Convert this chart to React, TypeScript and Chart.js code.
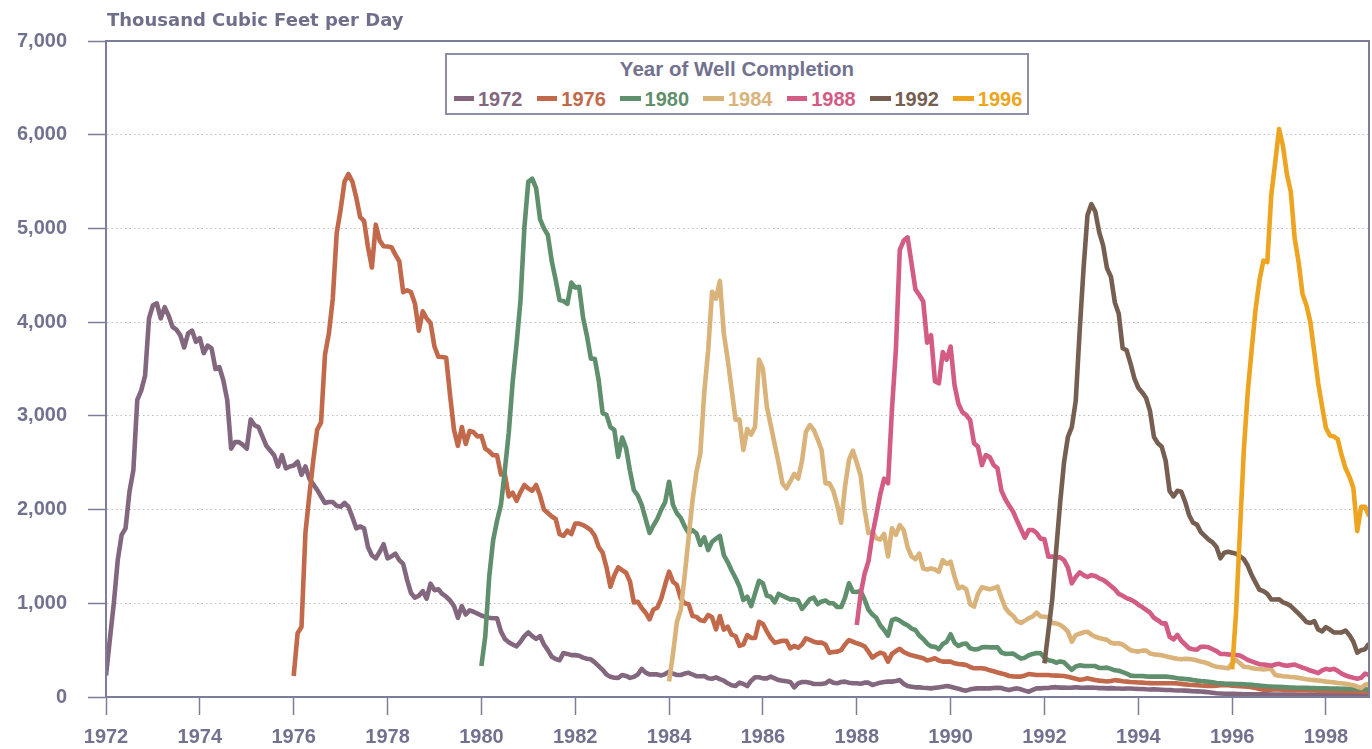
import React, { useEffect, useRef } from "react";
import { Chart, registerables } from "chart.js";

Chart.register(...registerables);

// ---- Data (monthly values, thousand cubic feet per day) ----
const startYears = [1972, 1976, 1980, 1984, 1988, 1992, 1996];
const seriesLabels = ["1972", "1976", "1980", "1984", "1988", "1992", "1996"];
const seriesColors = ["#83677F", "#C1694A", "#5F8F6C", "#D9B37A", "#D35C84", "#765F50", "#EDA420"];

const s1972 = [
  230, 620, 1000, 1460, 1730, 1800, 2190, 2420, 3170, 3270, 3430, 4040,
  4180, 4200, 4040, 4160, 4070, 3950, 3920, 3860, 3730, 3880, 3910, 3790,
  3830, 3670, 3750, 3720, 3500, 3520, 3380, 3170, 2650, 2720, 2720, 2690,
  2650, 2960, 2900, 2880, 2780, 2680, 2630, 2580, 2460, 2580, 2440, 2460,
  2470, 2510, 2370, 2460, 2330, 2270, 2210, 2140, 2070, 2080, 2080, 2040,
  2030, 2070, 2030, 1920, 1800, 1820, 1800, 1600, 1510, 1480, 1550, 1630,
  1480, 1500, 1530, 1460, 1420, 1250, 1110, 1060, 1080, 1130, 1050, 1210,
  1140, 1150, 1100, 1070, 1030, 970, 845, 970, 880, 925, 910, 890,
  870, 855, 845, 841, 841, 700, 620, 585, 560, 541, 590, 650,
  690, 650, 620, 650, 560, 500, 430, 405, 392, 470, 460, 447,
  447, 440, 420, 408, 402, 370, 330, 290, 240, 215, 206, 204,
  235, 225, 204, 215, 240, 300, 260, 241, 241, 241, 230, 245,
  270, 250, 235, 235, 250, 258, 240, 222, 222, 223, 200, 195,
  210, 190, 175, 146, 125, 117, 153, 139, 117, 174, 210, 210,
  199, 199, 217, 199, 181, 174, 167, 160, 103, 146, 160, 160,
  153, 139, 139, 139, 146, 174, 153, 146, 160, 164, 153, 146,
  146, 142, 153, 153, 128, 140, 153, 160, 164, 164, 170, 181,
  140, 117, 110, 103, 103, 99, 96, 92, 99, 103, 110, 117,
  110, 99, 89, 75, 68, 82, 89, 92, 92, 92, 92, 96,
  99, 96, 82, 75, 85, 92, 82, 68, 57, 75, 92, 92,
  96, 96, 103, 105, 100, 100, 98, 100, 105, 100, 98, 100,
  100, 98, 95, 95, 92, 95, 92, 90, 88, 90, 90, 88,
  85, 85, 82, 80, 82, 80, 78, 75, 75, 72, 70, 70,
  68, 65, 62, 60, 58, 55, 50, 45, 40, 38, 35, 35,
  35, 33, 32, 30, 30, 30, 30, 28, 28, 28, 27, 27,
  26, 26, 25, 25, 25, 24, 24, 24, 23, 23, 22, 22,
  22, 21, 21, 20, 20, 20, 20, 19, 19, 19, 18, 18,
];

const s1976 = [
  224, 680, 750, 1750, 2150, 2520, 2850, 2930, 3650, 3880, 4250, 4950,
  5200, 5500, 5580, 5500, 5330, 5120, 5080, 4800, 4583, 5040, 4870, 4810,
  4807, 4800, 4720, 4650, 4320, 4340, 4320, 4200, 3909, 4115, 4040, 3990,
  3740, 3630, 3628, 3620, 3217, 2850, 2680, 2880, 2700, 2840, 2825, 2780,
  2786, 2650, 2620, 2580, 2580, 2375, 2375, 2140, 2180, 2093, 2187, 2262,
  2225, 2200, 2262, 2150, 2000, 1963, 1926, 1900, 1738, 1720, 1775, 1738,
  1851, 1851, 1835, 1810, 1780, 1720, 1600, 1540, 1383, 1177, 1300, 1383,
  1353, 1326, 1233, 1008, 1016, 950, 900, 829, 934, 953, 1050, 1200,
  1337, 1230, 1195, 1050, 1000, 990, 864, 855, 820, 810, 875, 850,
  722, 864, 720, 750, 665, 650, 545, 560, 660, 630, 630, 803,
  780, 700, 630, 580, 590, 601, 601, 519, 545, 525, 560, 626,
  610, 590, 580, 580, 560, 473, 480, 484, 500, 560, 608, 590,
  573, 560, 540, 484, 420, 450, 473, 460, 377, 460, 490, 515,
  480, 460, 445, 435, 425, 413, 390, 400, 413, 390, 377, 377,
  377, 360, 352, 348, 341, 320, 306, 306, 306, 300, 285, 275,
  262, 250, 240, 224, 220, 217, 217, 230, 245, 240, 235, 235,
  235, 235, 230, 228, 226, 224, 215, 205, 195, 185, 190, 199,
  190, 181, 175, 170, 165, 170, 180, 175, 168, 164, 160, 158,
  155, 153, 150, 148, 146, 146, 146, 146, 146, 146, 145, 140,
  135, 130, 128, 125, 122, 120, 118, 117, 120, 125, 128, 125,
  120, 117, 115, 113, 110, 105, 95, 85, 78, 75, 78, 82,
  80, 78, 76, 75, 75, 73, 72, 72, 70, 70, 68, 66,
  65, 64, 63, 62, 62, 60, 60, 58, 58, 56, 55, 55,
];

const s1980 = [
  330, 650, 1280, 1670, 1880, 2050, 2420, 2820, 3360, 3770, 4227, 5010,
  5500, 5530, 5430, 5100, 5000, 4930, 4650, 4451, 4235, 4225, 4195, 4422,
  4370, 4377, 4050, 3853, 3610, 3610, 3380, 3030, 3011, 2880, 2850, 2562,
  2768, 2656, 2413, 2207, 2150, 2050, 1900, 1750, 1830, 1900, 2000, 2080,
  2297, 2050, 1960, 1910, 1820, 1750, 1780, 1747, 1622, 1704, 1568, 1657,
  1690, 1718, 1515, 1440, 1350, 1270, 1180, 1035, 1070, 970, 1106, 1240,
  1213, 1080, 1070, 1010, 1100, 1080, 1060, 1042, 1042, 1030, 940, 990,
  1045, 1060, 990, 1020, 1030, 1000, 1000, 960, 960, 1060, 1213, 1124,
  1120, 1130, 1040, 930, 880, 845, 765, 715, 655, 820, 835, 815,
  785, 765, 730, 715, 655, 620, 570, 540, 537, 510, 565, 590,
  670, 580, 545, 565, 570, 520, 508, 510, 530, 534, 530, 530,
  530, 475, 460, 462, 464, 435, 410, 420, 446, 460, 470, 466,
  420, 392, 385, 366, 380, 370, 330, 290, 325, 338, 332, 331,
  331, 330, 310, 310, 313, 300, 285, 280, 265, 250, 228, 224,
  224, 224, 220, 217, 217, 217, 217, 217, 214, 207, 200, 196,
  192, 188, 181, 175, 170, 167, 163, 158, 150, 147, 143, 140,
  140, 139, 138, 136, 134, 130, 126, 122, 118, 114, 112, 110,
  108, 106, 104, 102, 100, 99, 98, 97, 96, 95, 94, 93,
  92, 91, 90, 89, 88, 87, 86, 85, 84, 83, 82, 80,
];

const s1984 = [
  166, 460, 800, 930, 1300, 1700, 2100, 2400, 2600, 3250, 3700, 4325,
  4250, 4440, 3880, 3600, 3280, 2960, 2960, 2635, 2860, 2800, 2884, 3600,
  3500, 3100, 2900, 2700, 2500, 2280, 2226, 2300, 2380, 2330, 2520, 2830,
  2902, 2850, 2750, 2635, 2280, 2280, 2200, 2049, 1860, 2244, 2529, 2630,
  2500, 2360, 2000, 1750, 1760, 1693, 1680, 1740, 1500, 1800, 1730, 1835,
  1780, 1600, 1500, 1470, 1530, 1370, 1360, 1370, 1360, 1337, 1460, 1420,
  1444, 1284, 1160, 1177, 1150, 990, 964, 1100, 1170, 1160, 1150, 1160,
  1177, 1060, 950, 900, 865, 810, 790, 815, 840, 860, 900, 860,
  857, 850, 790, 785, 770, 740, 697, 590, 660, 675, 690, 697,
  665, 643, 630, 620, 610, 580, 570, 573, 560, 530, 500, 490,
  484, 495, 495, 465, 455, 450, 445, 435, 425, 415, 408, 402,
  408, 405, 400, 390, 377, 370, 355, 335, 322, 318, 312, 306,
  360, 394, 360, 322, 320, 308, 302, 298, 294, 300, 300, 236,
  228, 222, 218, 214, 210, 204, 198, 190, 184, 180, 176, 170,
  164, 160, 156, 150, 146, 140, 132, 125, 110, 97, 130, 140,
];

const s1988 = [
  768, 1100, 1315, 1450, 1730, 1940, 2160, 2330, 2280, 3070, 3700, 4770,
  4870, 4905, 4630, 4350, 4290, 4220, 3780, 3860, 3370, 3347, 3680, 3600,
  3740, 3330, 3130, 3040, 3009, 2955, 2707, 2671, 2475, 2582, 2560, 2475,
  2440, 2200, 2110, 2040, 1977, 1880, 1790, 1700, 1782, 1782, 1750, 1690,
  1682, 1497, 1500, 1490, 1490, 1460, 1380, 1213, 1280, 1330, 1300, 1280,
  1300, 1290, 1266, 1250, 1220, 1185, 1149, 1100, 1080, 1055, 1040, 1017,
  985, 960, 930, 900, 845, 820, 786, 786, 643, 615, 662, 600,
  560, 519, 510, 505, 537, 537, 530, 510, 490, 460, 459, 455,
  452, 448, 442, 420, 395, 380, 365, 350, 346, 340, 334, 346,
  354, 340, 334, 340, 346, 330, 314, 300, 282, 270, 255, 285,
  300, 290, 300, 280, 250, 230, 216, 205, 196, 205, 250, 236,
];

const s1992 = [
  359, 700, 1045, 1568, 2066, 2500, 2775, 2880, 3160, 3900, 4570, 5140,
  5260, 5180, 4960, 4820, 4574, 4485, 4210, 4090, 3721, 3700, 3560, 3400,
  3300, 3250, 3190, 3050, 2775, 2707, 2670, 2520, 2200, 2140, 2200, 2190,
  2080, 1940, 1860, 1840, 1760, 1720, 1680, 1650, 1600, 1480, 1540, 1550,
  1540, 1530, 1500, 1470, 1400, 1300, 1220, 1144, 1130, 1100, 1040, 1040,
  1043, 1010, 995, 970, 930, 890, 847, 800, 790, 810, 720, 700,
  745, 720, 690, 689, 689, 709, 660, 590, 473, 500, 510, 571,
];

const s1996 = [
  294, 900, 1770, 2640, 3260, 3710, 4140, 4450, 4656, 4640, 5350, 5700,
  6060, 5880, 5580, 5390, 4890, 4640, 4300, 4180, 4000, 3680, 3350, 3100,
  2870, 2790, 2780, 2750, 2580, 2440, 2350, 2230, 1770, 2030, 2030, 1930,
];

const seriesValues = [s1972, s1976, s1980, s1984, s1988, s1992, s1996];

const xTickYears = [1972, 1974, 1976, 1978, 1980, 1982, 1984, 1986, 1988, 1990, 1992, 1994, 1996, 1998];
const yTickValues = [0, 1000, 2000, 3000, 4000, 5000, 6000, 7000];

const AXIS_COLOR = "#7D7D9B";
const TEXT_COLOR = "#727290";
const FONT = '"Liberation Sans", Arial, Helvetica, sans-serif';

const framePlugin = {
  id: "frame",
  afterDraw(chart: any) {
    const { ctx, chartArea: a } = chart;
    ctx.save();
    ctx.strokeStyle = AXIS_COLOR;
    ctx.lineWidth = 2;
    ctx.setLineDash([]);
    ctx.strokeRect(a.left, a.top, a.right - a.left, a.bottom - a.top);
    ctx.restore();
  },
};

export default function App() {
  const canvasRef = useRef<HTMLCanvasElement | null>(null);

  useEffect(() => {
    if (!canvasRef.current) return;
    const datasets = seriesValues.map((vals, si) => ({
      label: seriesLabels[si],
      data: vals.map((v, i) => ({ x: startYears[si] + i / 12, y: v })),
      borderColor: seriesColors[si],
      backgroundColor: seriesColors[si],
      borderWidth: 4.6,
      pointRadius: 0,
      tension: 0,
      fill: false,
      borderJoinStyle: "round" as const,
      borderCapStyle: "butt" as const,
      order: seriesValues.length - 1 - si,
    }));

    const chart = new Chart(canvasRef.current, {
      type: "line",
      data: { datasets },
      plugins: [framePlugin],
      options: {
        animation: false,
        responsive: false,
        maintainAspectRatio: false,
        devicePixelRatio: 1,
        layout: { padding: { top: 41, right: 3, left: 0, bottom: 0 } },
        plugins: {
          legend: { display: false },
          tooltip: { enabled: false },
          title: { display: false },
        },
        scales: {
          x: {
            type: "linear",
            min: 1972,
            max: 1998 + 11 / 12,
            afterFit: (scale: any) => {
              scale.height = 52;
            },
            afterBuildTicks: (scale: any) => {
              scale.ticks = xTickYears.map((v) => ({ value: v }));
            },
            ticks: {
              includeBounds: false,
              stepSize: 2,
              padding: 10,
              maxRotation: 0,
              autoSkip: false,
              color: TEXT_COLOR,
              font: { family: FONT, size: 20, weight: "bold" },
              callback: (v: any) => String(v),
            },
            grid: {
              drawOnChartArea: false,
              drawTicks: true,
              tickLength: 18,
              tickColor: AXIS_COLOR,
              tickWidth: 1.5,
            },
            border: { display: true, color: AXIS_COLOR, width: 2 },
          },
          y: {
            type: "linear",
            min: 0,
            max: 7000,
            afterFit: (scale: any) => {
              scale.width = 106;
            },
            afterBuildTicks: (scale: any) => {
              scale.ticks = yTickValues.map((v) => ({ value: v }));
            },
            ticks: {
              stepSize: 1000,
              padding: 21,
              color: TEXT_COLOR,
              font: { family: FONT, size: 20, weight: "bold" },
              callback: (v: any) => Number(v).toLocaleString("en-US"),
            },
            grid: {
              color: (c: any) =>
                c.tick && (c.tick.value === 0 || c.tick.value === 7000) ? "rgba(0,0,0,0)" : "#BDBDBD",
              lineWidth: 1,
              drawTicks: true,
              tickLength: 18,
              tickColor: AXIS_COLOR,
              tickWidth: 1.5,
            },
            border: { display: true, color: AXIS_COLOR, width: 2, dash: [1.5, 3] },
          },
        },
      },
    });
    return () => chart.destroy();
  }, []);

  const itemStep = 83.3;

  return (
    <div style={{ position: "absolute", left: 0, top: 0, width: 1372, height: 749, background: "#ffffff", overflow: "hidden" }}>
      <canvas ref={canvasRef} width={1372} height={749} style={{ display: "block", width: 1372, height: 749 }} />
      <div
        style={{
          position: "absolute",
          left: 107,
          top: 10.5,
          fontFamily: '"DejaVu Sans", Verdana, sans-serif',
          fontWeight: "bold",
          fontSize: 18,
          lineHeight: "18px",
          color: "#6F6F8C",
          whiteSpace: "nowrap",
        }}
      >
        Thousand Cubic Feet per Day
      </div>
      <div
        style={{
          position: "absolute",
          left: 445,
          top: 53,
          width: 584,
          height: 62,
          boxSizing: "border-box",
          border: "2px solid #8E8EA6",
          background: "#ffffff",
          fontFamily: FONT,
          fontWeight: "bold",
        }}
      >
        <div
          style={{
            position: "absolute",
            left: 0,
            top: 4.4,
            width: "100%",
            textAlign: "center",
            fontSize: 20.5,
            lineHeight: "20.5px",
            color: TEXT_COLOR,
            whiteSpace: "nowrap",
          }}
        >
          Year of Well Completion
        </div>
        {seriesLabels.map((lab, i) => (
          <div key={lab}>
            <div
              style={{
                position: "absolute",
                left: 6.5 + i * itemStep,
                top: 41,
                width: 20.5,
                height: 5,
                background: seriesColors[i],
              }}
            />
            <div
              style={{
                position: "absolute",
                left: 31 + i * itemStep,
                top: 33.7,
                fontSize: 20,
                lineHeight: "20px",
                color: seriesColors[i],
                whiteSpace: "nowrap",
              }}
            >
              {lab}
            </div>
          </div>
        ))}
      </div>
    </div>
  );
}
